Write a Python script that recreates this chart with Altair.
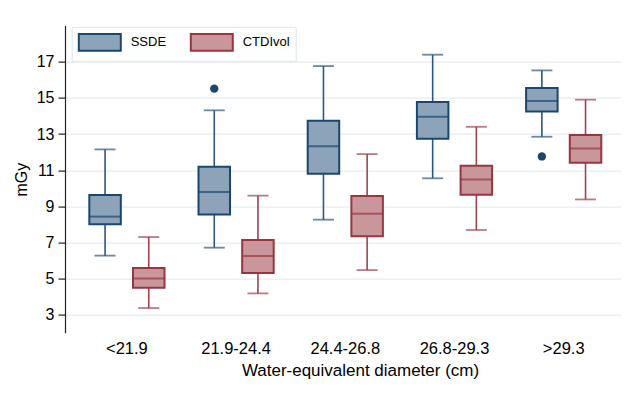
import altair as alt
import pandas as pd

groups = ["<21.9", "21.9-24.4", "24.4-26.8", "26.8-29.3", ">29.3"]
series_names = ["SSDE", "CTDIvol"]

ssde_lower = [6.27, 6.71, 8.26, 10.55, 12.85]
ssde_q1 = [8.01, 8.55, 10.80, 12.74, 14.25]
ssde_median = [8.43, 9.79, 12.32, 13.96, 14.83]
ssde_q3 = [9.62, 11.19, 13.74, 14.77, 15.54]
ssde_upper = [12.15, 14.31, 16.76, 17.39, 16.52]

ctdi_lower = [3.37, 4.18, 5.47, 7.69, 9.38]
ctdi_q1 = [4.49, 5.31, 7.34, 9.64, 11.41]
ctdi_median = [5.01, 6.25, 8.59, 10.49, 12.20]
ctdi_q3 = [5.58, 7.13, 9.57, 11.24, 12.94]
ctdi_upper = [7.30, 9.59, 11.89, 13.40, 14.90]

outlier_group = ["21.9-24.4", ">29.3"]
outlier_series = ["SSDE", "SSDE"]
outlier_value = [15.51, 11.76]

stroke_colors = ["#1a476f", "#98363f"]
whisker_colors = ["#2f5680", "#a2424a"]
fill_colors = ["#8da3ba", "#c9979b"]

rows = []
for i, g in enumerate(groups):
    rows.append(dict(group=g, series="SSDE", lower=ssde_lower[i], q1=ssde_q1[i],
                     median=ssde_median[i], q3=ssde_q3[i], upper=ssde_upper[i]))
    rows.append(dict(group=g, series="CTDIvol", lower=ctdi_lower[i], q1=ctdi_q1[i],
                     median=ctdi_median[i], q3=ctdi_q3[i], upper=ctdi_upper[i]))
df = pd.DataFrame(rows)
out_df = pd.DataFrame(dict(group=outlier_group, series=outlier_series, value=outlier_value))

FONT = "Liberation Sans"

x_enc = alt.X(
    "group:N",
    sort=groups,
    scale=alt.Scale(domain=groups, paddingInner=0, paddingOuter=0.0458, align=0.73),
    axis=alt.Axis(title="Water-equivalent diameter (cm)", labelAngle=0, ticks=False,
                  domain=False, labelPadding=8, titlePadding=5, labelFontSize=16.5,
                  titleFontSize=17, labelFont=FONT, titleFont=FONT, labelColor="#000000",
                  titleColor="#000000", titleFontWeight="normal", grid=False,
                  titleX=295, titleAlign="center"),
)
xo_enc = alt.XOffset("series:N", sort=series_names,
                     scale=alt.Scale(domain=series_names, paddingInner=0, paddingOuter=0.25))

y_scale = alt.Scale(domain=[2, 19], nice=False, zero=False)
odd = "datum.value % 2 === 1"
y_axis = alt.Axis(
    title="mGy",
    values=list(range(3, 19)),
    labelExpr="datum.value % 2 === 1 ? datum.label : ''",
    tickSize={"condition": {"test": odd, "value": 7}, "value": 4},
    gridOpacity={"condition": {"test": odd, "value": 1}, "value": 0},
    grid=True, gridColor="#e4edf0", gridWidth=1.2,
    domainColor="#222222", tickColor="#222222", domainWidth=1.2, tickWidth=1.2,
    labelFontSize=16, titleFontSize=16, labelFont=FONT, titleFont=FONT,
    labelColor="#000000", titleColor="#000000", titleFontWeight="normal",
    labelPadding=4, titlePadding=7,
)

is_ssde = "datum.series === 'SSDE'"
line_color = alt.condition(is_ssde, alt.value(whisker_colors[0]), alt.value(whisker_colors[1]))
dark_color = alt.condition(is_ssde, alt.value(stroke_colors[0]), alt.value(stroke_colors[1]))

base = alt.Chart(df)

whisker = base.mark_rule(strokeWidth=1.6).encode(
    x=x_enc, xOffset=xo_enc,
    y=alt.Y("lower:Q", scale=y_scale, axis=y_axis),
    y2="upper:Q",
    stroke=line_color,
)

cap_low = base.mark_tick(size=21, thickness=1.8).encode(
    x=x_enc, xOffset=xo_enc, y=alt.Y("lower:Q", scale=y_scale),
    color=line_color,
)
cap_high = base.mark_tick(size=21, thickness=1.8).encode(
    x=x_enc, xOffset=xo_enc, y=alt.Y("upper:Q", scale=y_scale),
    color=line_color,
)

def make_legend():
    return alt.Legend(
        title=None, orient="none", legendX=6.7, legendY=1.3,
        direction="horizontal",
        symbolType="M-1,-1H4V1H-1Z", symbolSize=282,
        symbolStrokeWidth=2, symbolOpacity=1, labelOffset=34, columnPadding=20,
        padding=6, strokeColor="#dde6ea", fillColor="#ffffff",
        labelFontSize=13, labelFont=FONT, labelColor="#000000",
    )

box = base.mark_bar(size=31.5, strokeWidth=2, opacity=1).encode(
    x=x_enc, xOffset=xo_enc,
    y=alt.Y("q1:Q", scale=y_scale), y2="q3:Q",
    fill=alt.Fill("series:N", sort=series_names,
                  scale=alt.Scale(domain=series_names, range=fill_colors),
                  legend=make_legend()),
    stroke=alt.Stroke("series:N", sort=series_names,
                      scale=alt.Scale(domain=series_names, range=stroke_colors),
                      legend=make_legend()),
)

median = base.mark_tick(size=31.5, thickness=2).encode(
    x=x_enc, xOffset=xo_enc, y=alt.Y("median:Q", scale=y_scale),
    color=dark_color,
)

outliers = alt.Chart(out_df).mark_point(filled=True, size=70, opacity=1).encode(
    x=x_enc, xOffset=xo_enc, y=alt.Y("value:Q", scale=y_scale),
    color=dark_color,
)

chart = alt.layer(whisker, cap_low, cap_high, box, median, outliers).properties(
    width=556, height=307.2,
    background="#ffffff",
    autosize=alt.AutoSizeParams(type="none"),
    padding={"left": 57, "top": 17.6, "right": 0, "bottom": 50},
).configure_view(stroke=None)

chart.save("out.html", embed_options={"renderer": "svg", "actions": False})
